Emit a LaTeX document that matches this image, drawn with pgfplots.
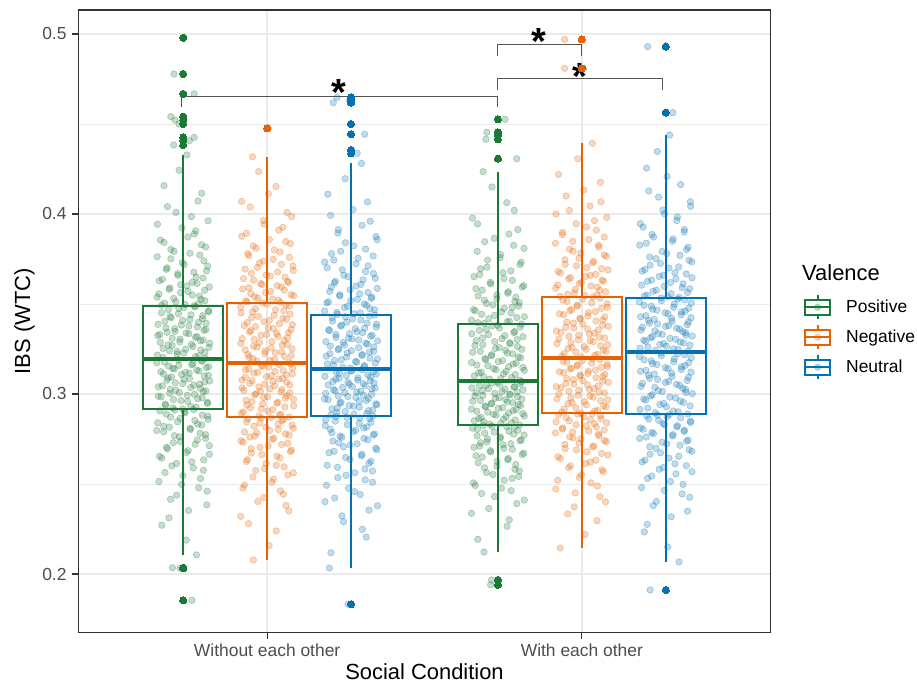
\documentclass[border=0pt]{standalone}
\usepackage{pgfplots}
\pgfplotsset{compat=1.18}
\usepackage{pgfplotstable}
\usepackage{fontspec}
\setmainfont{Liberation Sans}
\definecolor{cG}{HTML}{1B7837}
\definecolor{cO}{HTML}{E66101}
\definecolor{cB}{HTML}{0571B0}
\definecolor{gridc}{HTML}{EBEBEB}
\definecolor{framec}{HTML}{333333}
\definecolor{tlc}{HTML}{4D4D4D}
\definecolor{brk}{HTML}{555555}
\newcommand\boxkey[1]{%
  \path[draw=none, fill=none] (0bp,-15bp) rectangle (33bp,15bp);
  \fill[#1, opacity=0.3] (16.5bp,0bp) circle (3.3bp);
  \draw[#1, line width=1.9bp, fill=none] (4bp,-7.5bp) rectangle (29bp,7.5bp);
  \draw[#1, line width=1.9bp] (4bp,0bp) -- (29bp,0bp);
  \draw[#1, line width=1.9bp] (16.5bp,7.5bp) -- (16.5bp,12bp) (16.5bp,-7.5bp) -- (16.5bp,-12bp);}
% box: #1 colour, #2 left, #3 centre, #4 right, #5 lower whisker, #6 Q1, #7 median, #8 Q3, #9 upper whisker
\newcommand\boxp[9]{%
  \addplot[color=#1, line width=1.9bp, forget plot] coordinates {(#3,#6) (#3,#5)};
  \addplot[color=#1, line width=1.9bp, forget plot] coordinates {(#3,#8) (#3,#9)};
  \addplot[color=#1, line width=1.9bp, line join=miter, forget plot] coordinates {(#2,#6) (#4,#6) (#4,#8) (#2,#8)} -- cycle;
  \addplot[color=#1, line width=3.4bp, forget plot] coordinates {(#2,#7) (#4,#7)};}
\pgfplotsset{
  jit/.style={only marks, mark=*, mark size=3.3bp, color=#1, mark options={fill=#1, fill opacity=0.25, draw opacity=0.35, line width=0.5bp}, forget plot},
  outl/.style={only marks, mark=*, mark size=3.6bp, color=#1, mark options={fill=#1, line width=0pt}, forget plot}
}
\pgfplotstableread{
ja jb jc a b c d e f
0.012 -0.047 0.033 0.4328 0.4318 0.4281 0.4235 0.4393 0.4439
-0.061 0.028 -0.074 0.4158 0.4153 0.4110 0.4063 0.4220 0.4255
0.047 -0.081 0.006 0.4072 0.4070 0.4024 0.3977 0.4133 0.4163
-0.023 0.063 0.061 0.4009 0.4009 0.3960 0.3913 0.4068 0.4094
0.079 -0.012 -0.040 0.3962 0.3963 0.3913 0.3865 0.4020 0.4043
-0.004 0.050 0.079 0.3923 0.3926 0.3874 0.3826 0.3981 0.4001
0.035 -0.066 -0.018 0.3889 0.3893 0.3840 0.3792 0.3946 0.3964
-0.072 0.007 0.046 0.3855 0.3859 0.3805 0.3757 0.3910 0.3927
0.058 0.074 -0.062 0.3829 0.3835 0.3780 0.3732 0.3885 0.3900
-0.039 -0.035 0.022 0.3803 0.3810 0.3754 0.3705 0.3858 0.3872
0.021 0.041 -0.084 0.3782 0.3789 0.3733 0.3684 0.3837 0.3849
-0.083 -0.058 0.054 0.3762 0.3769 0.3712 0.3663 0.3816 0.3827
0.066 0.019 -0.028 0.3740 0.3748 0.3690 0.3641 0.3793 0.3803
0.003 -0.024 0.071 0.3719 0.3728 0.3669 0.3620 0.3772 0.3780
-0.051 0.082 -0.009 0.3701 0.3711 0.3651 0.3602 0.3754 0.3761
0.074 -0.070 0.038 0.3684 0.3694 0.3634 0.3585 0.3737 0.3743
-0.017 0.033 -0.053 0.3668 0.3678 0.3618 0.3568 0.3720 0.3725
0.041 -0.003 0.016 0.3650 0.3661 0.3600 0.3551 0.3702 0.3706
-0.066 0.057 0.083 0.3637 0.3649 0.3587 0.3538 0.3689 0.3692
0.029 -0.043 -0.068 0.3621 0.3633 0.3570 0.3521 0.3672 0.3674
-0.008 0.068 0.027 0.3607 0.3620 0.3557 0.3507 0.3659 0.3660
0.083 -0.016 -0.036 0.3595 0.3608 0.3544 0.3495 0.3646 0.3646
-0.045 0.045 0.064 0.3582 0.3595 0.3532 0.3482 0.3633 0.3633
0.015 -0.078 -0.001 0.3570 0.3583 0.3519 0.3469 0.3620 0.3619
-0.077 0.011 -0.077 0.3556 0.3570 0.3506 0.3456 0.3606 0.3605
0.052 -0.052 0.049 0.3544 0.3558 0.3493 0.3443 0.3594 0.3591
-0.030 0.084 -0.021 0.3531 0.3546 0.3480 0.3430 0.3581 0.3577
0.069 -0.029 0.075 0.3518 0.3534 0.3468 0.3418 0.3568 0.3564
-0.059 0.036 -0.045 0.3505 0.3521 0.3454 0.3404 0.3554 0.3549
0.006 -0.064 0.010 0.3497 0.3512 0.3446 0.3396 0.3546 0.3540
0.038 -0.001 0.058 0.3484 0.3499 0.3433 0.3382 0.3532 0.3527
-0.014 0.071 -0.060 0.3475 0.3489 0.3424 0.3373 0.3522 0.3518
0.081 -0.037 0.031 0.3462 0.3474 0.3411 0.3359 0.3507 0.3505
-0.069 0.053 -0.014 0.3451 0.3462 0.3399 0.3347 0.3494 0.3493
0.025 -0.083 0.081 0.3440 0.3450 0.3388 0.3335 0.3482 0.3482
-0.042 0.022 -0.033 0.3429 0.3437 0.3377 0.3324 0.3469 0.3471
0.061 -0.049 0.043 0.3418 0.3425 0.3366 0.3312 0.3457 0.3460
-0.002 0.061 -0.071 0.3409 0.3415 0.3357 0.3302 0.3446 0.3451
0.049 -0.010 0.019 0.3398 0.3402 0.3346 0.3291 0.3434 0.3440
-0.080 0.039 -0.005 0.3387 0.3390 0.3335 0.3279 0.3421 0.3429
0.018 -0.073 0.067 0.3378 0.3380 0.3326 0.3269 0.3411 0.3420
-0.055 0.004 -0.048 0.3367 0.3368 0.3315 0.3258 0.3399 0.3409
0.072 0.076 0.003 0.3359 0.3358 0.3306 0.3248 0.3388 0.3400
-0.026 -0.056 0.084 0.3348 0.3345 0.3295 0.3237 0.3376 0.3389
0.009 0.030 -0.025 0.3339 0.3336 0.3286 0.3227 0.3366 0.3380
-0.074 -0.020 0.052 0.3330 0.3326 0.3277 0.3218 0.3356 0.3371
0.044 0.065 -0.066 0.3319 0.3313 0.3266 0.3206 0.3343 0.3360
-0.035 -0.041 0.024 0.3310 0.3303 0.3257 0.3197 0.3333 0.3351
0.063 0.015 -0.041 0.3299 0.3291 0.3246 0.3185 0.3321 0.3340
-0.011 -0.084 0.072 0.3290 0.3281 0.3237 0.3175 0.3311 0.3331
0.084 0.048 -0.012 0.3282 0.3271 0.3228 0.3166 0.3301 0.3322
-0.048 -0.032 0.036 0.3273 0.3261 0.3219 0.3157 0.3291 0.3313
0.031 0.079 -0.079 0.3264 0.3251 0.3210 0.3147 0.3280 0.3304
-0.064 -0.006 0.060 0.3253 0.3239 0.3199 0.3135 0.3268 0.3293
0.056 0.026 -0.031 0.3245 0.3229 0.3190 0.3126 0.3258 0.3284
-0.019 -0.061 0.014 0.3236 0.3219 0.3181 0.3117 0.3248 0.3275
0.002 0.055 0.077 0.3227 0.3209 0.3172 0.3107 0.3238 0.3266
-0.082 -0.045 -0.056 0.3216 0.3197 0.3161 0.3095 0.3225 0.3255
0.039 0.009 0.041 0.3207 0.3187 0.3153 0.3086 0.3215 0.3247
0.070 0.069 -0.002 0.3198 0.3177 0.3144 0.3077 0.3205 0.3238
-0.033 -0.026 -0.064 0.2923 0.2878 0.2883 0.2833 0.2900 0.2896
0.024 0.043 0.050 0.2931 0.2887 0.2891 0.2840 0.2909 0.2906
-0.057 -0.075 -0.019 0.2943 0.2900 0.2903 0.2851 0.2923 0.2922
0.077 0.018 0.069 0.2954 0.2912 0.2912 0.2860 0.2934 0.2934
-0.007 -0.053 -0.044 0.2964 0.2923 0.2922 0.2869 0.2946 0.2947
0.046 0.084 0.008 0.2974 0.2934 0.2932 0.2878 0.2957 0.2960
-0.070 -0.014 0.082 0.2984 0.2945 0.2941 0.2887 0.2968 0.2973
0.013 0.034 -0.035 0.2993 0.2954 0.2949 0.2895 0.2978 0.2983
-0.043 -0.067 0.026 0.3003 0.2965 0.2959 0.2904 0.2989 0.2996
0.064 0.058 -0.073 0.3013 0.2976 0.2969 0.2913 0.3000 0.3008
-0.024 0.001 0.055 0.3021 0.2985 0.2976 0.2920 0.3009 0.3019
0.054 -0.039 -0.010 0.3032 0.2996 0.2986 0.2929 0.3021 0.3031
-0.079 0.072 0.039 0.3040 0.3005 0.2994 0.2936 0.3030 0.3042
0.034 -0.021 -0.081 0.3050 0.3016 0.3004 0.2945 0.3041 0.3054
-0.001 0.047 0.018 0.3058 0.3025 0.3011 0.2952 0.3050 0.3064
0.068 -0.080 -0.051 0.3067 0.3034 0.3019 0.2960 0.3059 0.3075
-0.052 0.024 0.066 0.3077 0.3045 0.3029 0.2969 0.3071 0.3087
0.020 -0.008 -0.027 0.3085 0.3054 0.3036 0.2976 0.3080 0.3098
-0.037 0.062 0.045 0.3095 0.3065 0.3046 0.2985 0.3091 0.3111
0.080 -0.048 -0.006 0.3104 0.3074 0.3054 0.2992 0.3100 0.3121
-0.063 0.037 0.073 0.3112 0.3083 0.3061 0.3000 0.3109 0.3131
0.007 -0.069 -0.058 0.3120 0.3092 0.3069 0.3007 0.3118 0.3141
0.050 0.013 0.021 0.3128 0.3101 0.3077 0.3014 0.3127 0.3151
-0.028 0.080 -0.038 0.3139 0.3112 0.3087 0.3023 0.3139 0.3164
0.073 -0.030 0.062 0.3147 0.3121 0.3094 0.3030 0.3148 0.3174
-0.046 0.051 -0.015 0.3155 0.3130 0.3102 0.3038 0.3157 0.3184
0.027 -0.059 0.080 0.3163 0.3139 0.3110 0.3045 0.3166 0.3195
-0.084 0.005 -0.047 0.3174 0.3150 0.3120 0.3054 0.3177 0.3208
0.060 -0.018 0.002 0.3182 0.3158 0.3127 0.3061 0.3186 0.3218
-0.015 0.075 0.035 0.3190 0.3167 0.3135 0.3068 0.3195 0.3228
0.042 -0.044 -0.069 0.2106 0.2078 0.2033 0.2122 0.2144 0.2067
-0.068 0.029 0.048 0.2271 0.2239 0.2205 0.2265 0.2296 0.2234
0.017 -0.084 -0.024 0.2353 0.2320 0.2291 0.2337 0.2373 0.2318
-0.040 0.060 0.057 0.2415 0.2381 0.2355 0.2391 0.2430 0.2380
0.076 -0.011 -0.083 0.2460 0.2425 0.2402 0.2431 0.2472 0.2426
-0.005 0.042 0.029 0.2498 0.2462 0.2441 0.2463 0.2506 0.2464
0.055 -0.072 -0.008 0.2531 0.2494 0.2476 0.2492 0.2537 0.2498
-0.058 0.020 0.068 0.2564 0.2527 0.2510 0.2521 0.2568 0.2531
0.032 0.066 -0.042 0.2589 0.2550 0.2536 0.2542 0.2590 0.2556
-0.021 -0.036 0.012 0.2614 0.2575 0.2562 0.2564 0.2613 0.2582
0.065 0.054 0.044 0.2634 0.2595 0.2583 0.2582 0.2632 0.2602
-0.075 -0.003 -0.076 0.2654 0.2615 0.2604 0.2599 0.2651 0.2623
0.010 -0.063 0.063 0.2675 0.2635 0.2626 0.2618 0.2670 0.2644
-0.050 0.031 -0.017 0.2696 0.2655 0.2647 0.2635 0.2689 0.2665
0.083 -0.050 0.034 0.2713 0.2672 0.2665 0.2650 0.2705 0.2682
-0.031 0.077 -0.054 0.2729 0.2688 0.2682 0.2664 0.2720 0.2698
0.045 -0.023 0.078 0.2745 0.2704 0.2699 0.2678 0.2735 0.2715
-0.012 0.046 -0.003 0.2762 0.2720 0.2717 0.2693 0.2751 0.2732
0.071 -0.076 -0.039 0.2774 0.2732 0.2729 0.2704 0.2762 0.2744
-0.062 0.016 0.053 0.2790 0.2748 0.2746 0.2718 0.2777 0.2761
0.023 -0.055 -0.029 0.2803 0.2761 0.2760 0.2729 0.2789 0.2774
-0.044 0.070 0.071 0.2816 0.2773 0.2772 0.2740 0.2800 0.2786
0.059 -0.033 -0.061 0.2828 0.2785 0.2785 0.2750 0.2811 0.2799
-0.081 0.008 0.015 0.2840 0.2797 0.2798 0.2761 0.2823 0.2811
0.037 0.083 0.040 0.2853 0.2809 0.2811 0.2772 0.2835 0.2824
-0.009 -0.042 -0.082 0.2865 0.2821 0.2824 0.2783 0.2846 0.2836
0.078 0.035 0.026 0.2877 0.2833 0.2837 0.2793 0.2857 0.2849
-0.054 -0.065 -0.050 0.2889 0.2845 0.2849 0.2804 0.2868 0.2861
0.004 0.052 0.059 0.2902 0.2858 0.2863 0.2815 0.2880 0.2874
-0.027 -0.019 -0.013 0.2911 0.2866 0.2871 0.2822 0.2888 0.2882
}\jit
\pgfplotstableread{
ka kb kc a b c d e f
-0.013 -0.027 -0.019 0.4243 0.4236 0.4196 0.4150 0.4307 0.4347
0.059 0.004 0.052 0.4115 0.4112 0.4067 0.4020 0.4176 0.4209
-0.050 -0.054 -0.065 0.4041 0.4039 0.3992 0.3945 0.4100 0.4128
0.026 0.078 0.035 0.3985 0.3986 0.3937 0.3889 0.4044 0.4068
-0.082 -0.009 -0.042 0.3943 0.3944 0.3894 0.3846 0.4000 0.4022
0.040 0.037 0.083 0.3906 0.3910 0.3857 0.3809 0.3963 0.3983
0.015 -0.081 0.008 0.3872 0.3876 0.3823 0.3775 0.3928 0.3946
-0.061 0.059 -0.033 0.3842 0.3847 0.3793 0.3744 0.3898 0.3914
0.071 -0.044 0.070 0.3817 0.3823 0.3767 0.3719 0.3872 0.3886
-0.029 0.023 -0.055 0.3793 0.3800 0.3744 0.3695 0.3848 0.3861
0.053 -0.062 0.016 0.3772 0.3780 0.3723 0.3674 0.3827 0.3838
-0.039 0.071 -0.076 0.3751 0.3759 0.3701 0.3652 0.3805 0.3815
-0.003 -0.012 0.046 0.3730 0.3738 0.3680 0.3631 0.3783 0.3792
0.078 0.045 -0.023 0.3710 0.3720 0.3660 0.3611 0.3764 0.3771
-0.054 -0.031 0.077 0.3693 0.3703 0.3643 0.3594 0.3746 0.3752
0.034 0.083 -0.050 0.3676 0.3686 0.3626 0.3577 0.3729 0.3734
-0.017 -0.050 0.031 0.3659 0.3670 0.3609 0.3560 0.3712 0.3716
0.063 0.010 -0.063 0.3644 0.3655 0.3594 0.3545 0.3696 0.3700
-0.076 -0.075 -0.003 0.3629 0.3641 0.3579 0.3529 0.3681 0.3683
0.044 0.065 0.054 0.3614 0.3626 0.3564 0.3514 0.3665 0.3667
0.012 -0.021 -0.036 0.3601 0.3614 0.3551 0.3502 0.3653 0.3653
-0.042 0.032 0.066 0.3589 0.3602 0.3538 0.3489 0.3640 0.3640
0.068 -0.058 0.020 0.3576 0.3590 0.3526 0.3476 0.3627 0.3626
-0.008 0.055 -0.072 0.3563 0.3577 0.3512 0.3463 0.3613 0.3612
0.029 -0.005 0.042 0.3550 0.3564 0.3500 0.3450 0.3600 0.3598
-0.083 0.076 -0.011 0.3538 0.3552 0.3487 0.3437 0.3588 0.3585
0.057 -0.040 0.060 0.3525 0.3540 0.3474 0.3425 0.3575 0.3571
-0.024 0.017 -0.084 0.3512 0.3527 0.3461 0.3411 0.3561 0.3557
0.048 -0.068 0.029 0.3501 0.3517 0.3450 0.3400 0.3550 0.3545
-0.069 0.042 -0.044 0.3493 0.3509 0.3442 0.3392 0.3542 0.3537
0.035 -0.015 0.075 0.3490 0.3506 0.3439 0.3389 0.3539 0.3533
0.002 0.060 -0.018 0.3480 0.3494 0.3429 0.3378 0.3527 0.3523
-0.047 -0.084 0.005 0.3469 0.3482 0.3417 0.3366 0.3515 0.3511
0.080 0.027 -0.059 0.3457 0.3468 0.3405 0.3353 0.3501 0.3499
-0.015 -0.046 0.051 0.3446 0.3456 0.3394 0.3341 0.3488 0.3488
0.062 0.073 -0.030 0.3435 0.3444 0.3383 0.3330 0.3476 0.3477
-0.038 -0.028 0.080 0.3424 0.3431 0.3372 0.3318 0.3463 0.3466
0.021 0.050 0.013 0.3414 0.3420 0.3362 0.3307 0.3452 0.3456
-0.058 0.007 -0.069 0.3404 0.3409 0.3352 0.3297 0.3440 0.3446
0.073 -0.063 0.037 0.3393 0.3396 0.3341 0.3285 0.3428 0.3435
-0.006 0.080 -0.048 0.3383 0.3385 0.3330 0.3274 0.3416 0.3424
0.045 -0.037 0.062 0.3373 0.3374 0.3321 0.3264 0.3405 0.3415
-0.027 0.020 -0.008 0.3363 0.3363 0.3310 0.3253 0.3394 0.3404
0.066 -0.052 0.024 0.3353 0.3352 0.3300 0.3243 0.3382 0.3394
-0.051 0.068 -0.080 0.3343 0.3341 0.3291 0.3232 0.3371 0.3385
0.018 -0.001 0.047 0.3335 0.3331 0.3282 0.3223 0.3361 0.3376
-0.081 0.034 -0.021 0.3325 0.3320 0.3272 0.3212 0.3350 0.3366
0.039 -0.079 0.072 0.3315 0.3308 0.3261 0.3201 0.3338 0.3355
-0.010 0.054 -0.039 0.3305 0.3297 0.3252 0.3191 0.3327 0.3346
0.055 -0.024 0.001 0.3295 0.3286 0.3241 0.3180 0.3316 0.3335
-0.073 0.064 0.058 0.3286 0.3276 0.3233 0.3171 0.3306 0.3327
0.026 -0.043 -0.067 0.3277 0.3266 0.3224 0.3161 0.3296 0.3318
-0.035 0.013 0.034 0.3269 0.3256 0.3215 0.3152 0.3285 0.3309
0.082 -0.070 -0.014 0.3259 0.3245 0.3205 0.3141 0.3274 0.3299
0.008 0.046 0.084 0.3249 0.3234 0.3195 0.3131 0.3263 0.3289
-0.044 -0.007 -0.053 0.3240 0.3224 0.3186 0.3121 0.3253 0.3280
0.069 0.077 0.018 0.3231 0.3214 0.3177 0.3112 0.3243 0.3271
-0.019 -0.057 -0.075 0.3222 0.3203 0.3167 0.3101 0.3232 0.3261
0.050 0.024 0.043 0.3212 0.3192 0.3157 0.3091 0.3220 0.3251
-0.064 -0.033 -0.026 0.3203 0.3182 0.3148 0.3082 0.3210 0.3242
-0.002 0.070 0.069 0.2917 0.2872 0.2878 0.2828 0.2894 0.2889
0.041 0.039 0.009 0.2927 0.2882 0.2887 0.2837 0.2905 0.2901
-0.056 -0.082 -0.045 0.2937 0.2894 0.2897 0.2846 0.2916 0.2914
0.077 0.002 0.055 0.2948 0.2906 0.2907 0.2856 0.2929 0.2928
0.014 -0.019 -0.061 0.2959 0.2917 0.2917 0.2865 0.2940 0.2941
-0.031 0.056 0.026 0.2969 0.2928 0.2927 0.2874 0.2951 0.2953
0.060 -0.064 -0.006 0.2979 0.2939 0.2936 0.2883 0.2963 0.2966
-0.079 0.031 0.079 0.2988 0.2949 0.2945 0.2891 0.2973 0.2978
0.036 -0.048 -0.032 0.2998 0.2959 0.2954 0.2899 0.2983 0.2989
-0.012 0.084 0.048 0.3008 0.2970 0.2964 0.2908 0.2994 0.3002
0.072 -0.011 -0.084 0.3017 0.2981 0.2972 0.2916 0.3005 0.3014
-0.041 0.063 0.015 0.3026 0.2990 0.2981 0.2924 0.3015 0.3025
0.024 -0.035 -0.041 0.3036 0.3001 0.2990 0.2933 0.3025 0.3037
-0.066 0.044 0.065 0.3045 0.3011 0.2999 0.2941 0.3035 0.3048
0.052 -0.074 -0.020 0.3054 0.3020 0.3007 0.2949 0.3045 0.3059
-0.025 0.009 0.030 0.3062 0.3029 0.3015 0.2956 0.3055 0.3070
0.084 -0.026 -0.056 0.3072 0.3039 0.3024 0.2964 0.3065 0.3081
0.003 0.072 0.076 0.3081 0.3050 0.3033 0.2972 0.3075 0.3093
-0.048 -0.055 0.004 0.3090 0.3059 0.3041 0.2980 0.3085 0.3104
0.067 0.018 -0.073 0.3100 0.3070 0.3050 0.2989 0.3096 0.3116
-0.005 -0.080 0.039 0.3108 0.3078 0.3058 0.2996 0.3105 0.3126
0.019 0.049 -0.010 0.3116 0.3087 0.3065 0.3003 0.3114 0.3136
-0.071 -0.002 0.061 0.3124 0.3096 0.3073 0.3011 0.3123 0.3146
0.043 0.061 -0.049 0.3133 0.3106 0.3082 0.3019 0.3133 0.3158
-0.033 -0.042 0.022 0.3142 0.3116 0.3090 0.3027 0.3143 0.3169
0.081 0.025 -0.083 0.3151 0.3125 0.3098 0.3034 0.3152 0.3179
-0.014 -0.069 0.053 0.3159 0.3134 0.3106 0.3041 0.3161 0.3190
0.031 0.081 -0.037 0.3168 0.3144 0.3115 0.3049 0.3172 0.3201
-0.060 -0.014 0.071 0.3177 0.3154 0.3123 0.3057 0.3182 0.3212
0.058 0.038 -0.001 0.3186 0.3163 0.3131 0.3065 0.3191 0.3223
0.010 0.006 -0.064 0.2188 0.2158 0.2118 0.2193 0.2220 0.2150
-0.045 -0.059 0.036 0.2312 0.2280 0.2248 0.2301 0.2334 0.2276
0.075 0.069 -0.029 0.2384 0.2350 0.2323 0.2364 0.2401 0.2349
-0.021 -0.030 0.084 0.2438 0.2403 0.2379 0.2411 0.2451 0.2403
0.049 0.052 -0.052 0.2479 0.2443 0.2422 0.2447 0.2489 0.2445
-0.077 -0.077 0.011 0.2514 0.2477 0.2458 0.2477 0.2521 0.2480
-0.001 0.015 -0.078 0.2547 0.2510 0.2493 0.2506 0.2552 0.2514
0.064 -0.045 0.045 0.2576 0.2539 0.2523 0.2531 0.2579 0.2544
-0.036 0.083 -0.016 0.2601 0.2562 0.2548 0.2553 0.2601 0.2568
0.027 -0.008 0.068 0.2623 0.2585 0.2572 0.2572 0.2622 0.2591
-0.068 0.029 -0.043 0.2644 0.2604 0.2593 0.2590 0.2641 0.2612
0.083 -0.066 0.057 0.2665 0.2625 0.2615 0.2608 0.2661 0.2633
0.016 0.041 -0.003 0.2685 0.2645 0.2636 0.2626 0.2679 0.2654
-0.053 -0.017 0.033 0.2704 0.2663 0.2656 0.2642 0.2697 0.2673
0.038 0.074 -0.070 0.2721 0.2680 0.2674 0.2657 0.2712 0.2690
-0.009 -0.051 0.082 0.2737 0.2696 0.2690 0.2671 0.2727 0.2707
0.071 0.003 -0.024 0.2753 0.2712 0.2707 0.2685 0.2742 0.2723
-0.028 0.066 0.019 0.2768 0.2726 0.2723 0.2698 0.2756 0.2738
0.054 -0.083 -0.058 0.2782 0.2740 0.2738 0.2711 0.2769 0.2753
-0.084 0.021 0.041 0.2797 0.2754 0.2753 0.2724 0.2783 0.2767
0.022 -0.039 -0.035 0.2809 0.2766 0.2766 0.2734 0.2794 0.2780
-0.062 0.058 0.074 0.2821 0.2778 0.2778 0.2745 0.2805 0.2792
0.046 -0.072 0.007 0.2833 0.2790 0.2791 0.2755 0.2817 0.2804
-0.018 0.035 -0.066 0.2846 0.2803 0.2804 0.2767 0.2829 0.2817
0.079 -0.004 0.050 0.2859 0.2815 0.2817 0.2777 0.2840 0.2830
-0.040 0.079 -0.012 0.2871 0.2827 0.2830 0.2788 0.2851 0.2842
0.061 -0.023 0.063 0.2883 0.2839 0.2843 0.2798 0.2862 0.2854
0.006 0.047 -0.081 0.2896 0.2851 0.2856 0.2810 0.2874 0.2868
-0.074 -0.061 0.028 0.2906 0.2862 0.2867 0.2819 0.2884 0.2878
0.033 0.012 -0.047 0.2914 0.2869 0.2875 0.2825 0.2891 0.2886
}\jitb
\begin{document}
\begin{tikzpicture}
\path[use as bounding box] (0,0) rectangle (917bp,684bp);
\begin{axis}[
  at={(78.3bp,51.5bp)}, anchor=south west,
  scale only axis, width=692.4bp, height=622.5bp,
  xmin=0.4, xmax=2.6, ymin=0.1675, ymax=0.51333,
  xtick={1,2}, xticklabels={Without each other, With each other},
  ytick={0.2,0.3,0.4,0.5}, yticklabels={0.2,0.3,0.4,0.5},
  minor ytick={0.25,0.35,0.45},
  xmajorgrids, ymajorgrids, yminorgrids,
  major grid style={color=gridc, line width=1.5bp},
  minor grid style={color=gridc, line width=0.8bp},
  tick pos=left, tick align=outside,
  major tick length=6bp, minor tick length=0pt,
  tick style={color=framec, line width=1.2bp},
  axis line style={color=framec, line width=1.2bp},
  ticklabel style={font=\fontsize{17.5}{20}\selectfont, text=tlc},
  xticklabel style={inner sep=0pt, anchor=north, yshift=-5.5bp},
  yticklabel style={inner sep=0pt, anchor=east, xshift=-5.6bp},
  /pgf/number format/assume math mode=true,
  clip=false,
  legend style={at={(1.04376,0.54699)}, anchor=north west, draw=none, fill=none, inner sep=0pt, row sep=0pt, column sep=12bp, font=\fontsize{17.5}{20}\selectfont, nodes={inner sep=0pt}},
  legend cell align=left,
]
% jittered points
\addplot[jit=cG] table[x expr=\thisrow{ja}+0.7333, y=a] {\jit};
\addplot[jit=cO] table[x expr=\thisrow{jb}+1.0, y=b] {\jit};
\addplot[jit=cB] table[x expr=\thisrow{jc}+1.2667, y=c] {\jit};
\addplot[jit=cG] table[x expr=\thisrow{jb}+1.7333, y=d] {\jit};
\addplot[jit=cO] table[x expr=\thisrow{jc}+2.0, y=e] {\jit};
\addplot[jit=cB] table[x expr=\thisrow{ja}+2.2667, y=f] {\jit};
\addplot[jit=cG] table[x expr=\thisrow{ka}+0.7333, y=a] {\jitb};
\addplot[jit=cO] table[x expr=\thisrow{kb}+1.0, y=b] {\jitb};
\addplot[jit=cB] table[x expr=\thisrow{kc}+1.2667, y=c] {\jitb};
\addplot[jit=cG] table[x expr=\thisrow{kc}+1.7333, y=d] {\jitb};
\addplot[jit=cO] table[x expr=\thisrow{ka}+2.0, y=e] {\jitb};
\addplot[jit=cB] table[x expr=\thisrow{kb}+2.2667, y=f] {\jitb};
% jittered copies of the outlying values
\addplot[jit=cG] coordinates {(0.735,0.4979) (0.704,0.4778) (0.768,0.4667) (0.694,0.4541) (0.707,0.4522) (0.720,0.4500) (0.768,0.4426) (0.753,0.4407) (0.703,0.4383) (0.699,0.2035) (0.723,0.2032) (0.761,0.1854) (1.756,0.4526) (1.698,0.4454) (1.735,0.4439) (1.695,0.4415) (1.793,0.4307) (1.713,0.1967) (1.710,0.1940)};
\addplot[jit=cO] coordinates {(1.004,0.4476) (1.945,0.4970) (1.945,0.4809)};
\addplot[jit=cB] coordinates {(1.222,0.4648) (1.262,0.4633) (1.210,0.4618) (1.265,0.4500) (1.310,0.4443) (1.268,0.4356) (1.286,0.4337) (1.257,0.1832) (2.209,0.4930) (2.289,0.4563) (2.217,0.1911)};
% boxplots
\boxp{cG}{0.6067}{0.7333}{0.8600}{0.2106}{0.2917}{0.3194}{0.3490}{0.4328}
\boxp{cO}{0.8733}{1.0000}{1.1267}{0.2078}{0.2872}{0.3172}{0.3506}{0.4318}
\boxp{cB}{1.1400}{1.2667}{1.3933}{0.2033}{0.2878}{0.3139}{0.3439}{0.4281}
\boxp{cG}{1.6067}{1.7333}{1.8600}{0.2122}{0.2828}{0.3072}{0.3389}{0.4235}
\boxp{cO}{1.8733}{2.0000}{2.1267}{0.2144}{0.2894}{0.3200}{0.3539}{0.4393}
\boxp{cB}{2.1400}{2.2667}{2.3933}{0.2067}{0.2889}{0.3233}{0.3533}{0.4439}
% outliers
\addplot[outl=cG] coordinates {(0.7333,0.4979) (0.7333,0.4778) (0.7333,0.4667) (0.7333,0.4541) (0.7333,0.4522) (0.7333,0.4500) (0.7333,0.4426) (0.7333,0.4407) (0.7333,0.4383) (0.7333,0.2035) (0.7333,0.2032) (0.7333,0.1854) (1.7333,0.4526) (1.7333,0.4454) (1.7333,0.4439) (1.7333,0.4415) (1.7333,0.4307) (1.7333,0.1967) (1.7333,0.1940)};
\addplot[outl=cO] coordinates {(1.0,0.4476) (2.0,0.4970) (2.0,0.4809)};
\addplot[outl=cB] coordinates {(1.2667,0.4648) (1.2667,0.4633) (1.2667,0.4618) (1.2667,0.4500) (1.2667,0.4443) (1.2667,0.4356) (1.2667,0.4337) (1.2667,0.1832) (2.2667,0.4930) (2.2667,0.4563) (2.2667,0.1911)};
% significance brackets
\addplot[color=brk, line width=1bp, forget plot] coordinates {(0.7286,0.4592) (0.7286,0.4654) (1.7327,0.4654) (1.7327,0.4592)};
\addplot[color=brk, line width=1bp, forget plot] coordinates {(1.7327,0.4878) (1.7327,0.4943) (1.9974,0.4943) (1.9974,0.4878)};
\addplot[color=brk, line width=1bp, forget plot] coordinates {(1.7327,0.4689) (1.7327,0.4750) (2.2557,0.4750) (2.2557,0.4689)};
\node[anchor=base, yshift=-20.9bp, inner sep=0pt, font=\fontsize{38}{40}\selectfont\bfseries] at (axis cs:1.2294,0.4717) {*};
\node[anchor=base, yshift=-20.9bp, inner sep=0pt, font=\fontsize{38}{40}\selectfont\bfseries] at (axis cs:1.8649,0.5004) {*};
\node[anchor=base, yshift=-20.9bp, inner sep=0pt, font=\fontsize{38}{40}\selectfont\bfseries] at (axis cs:1.9942,0.4809) {*};
% legend
\addlegendimage{legend image code/.code={\boxkey{cG}}}
\addlegendentry{Positive}
\addlegendimage{legend image code/.code={\boxkey{cO}}}
\addlegendentry{Negative}
\addlegendimage{legend image code/.code={\boxkey{cB}}}
\addlegendentry{Neutral}
\end{axis}
\node[rotate=90, anchor=base, inner sep=0pt, font=\fontsize{22}{26}\selectfont] at (30bp,362.75bp) {IBS (WTC)};
\node[anchor=base, inner sep=0pt, font=\fontsize{22}{26}\selectfont] at (424.5bp,4.5bp) {Social Condition};
\node[anchor=base west, inner sep=0pt, font=\fontsize{22}{26}\selectfont] at (802bp,403bp) {Valence};
\end{tikzpicture}
\end{document}
